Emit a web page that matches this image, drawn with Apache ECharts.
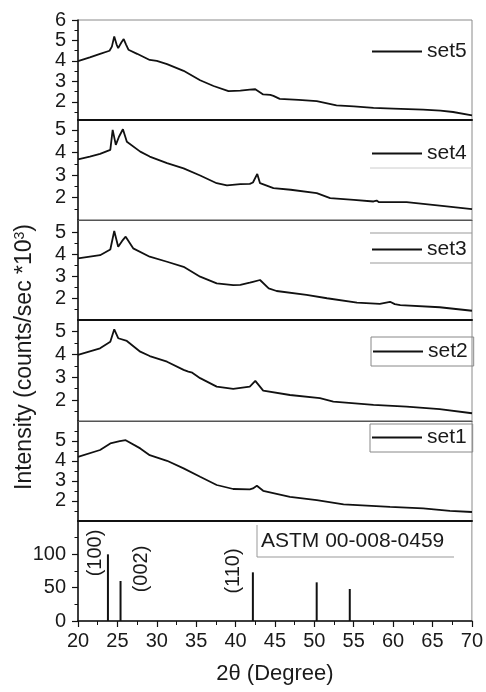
<!DOCTYPE html>
<html>
<head>
<meta charset="utf-8">
<script src="https://cdn.jsdelivr.net/npm/echarts@6/dist/echarts.min.js"></script>
<style>
html, body { margin: 0; padding: 0; background: #fff; }
#main { width: 486px; height: 692px; }
</style>
</head>
<body>
<div id="main"></div>
<script>
// XRD patterns, [2theta, intensity (x10^3 counts/sec)]
var set5 = [[20, 3.99], [21.5, 4.18], [22.8, 4.35], [24.0, 4.5], [24.3, 4.7], [24.6, 5.2], [24.9, 4.8], [25.1, 4.63], [25.5, 4.9], [25.8, 5.07], [26.1, 4.8], [26.4, 4.55], [27.5, 4.35], [29.1, 4.05], [30, 4.0], [31.3, 3.85], [33.4, 3.52], [35.5, 3.06], [37.2, 2.78], [39.1, 2.53], [40.6, 2.55], [41.8, 2.6], [42.5, 2.62], [43.5, 2.37], [44.4, 2.35], [44.6, 2.42], [44.8, 2.3], [45.6, 2.15], [48, 2.1], [50.3, 2.04], [52.8, 1.83], [55, 1.78], [57.5, 1.71], [60, 1.68], [63.8, 1.63], [66, 1.58], [67.6, 1.51], [70, 1.35]];
var set4 = [[20, 3.7], [21.5, 3.82], [22.8, 3.94], [24.1, 4.12], [24.4, 5.0], [24.8, 4.34], [25.2, 4.7], [25.7, 5.03], [26.2, 4.48], [27.9, 4.04], [29.1, 3.82], [31.3, 3.53], [33.4, 3.3], [35.5, 2.98], [37.6, 2.64], [38.9, 2.54], [40.6, 2.6], [41.8, 2.61], [42.2, 2.67], [42.75, 3.05], [43.1, 2.64], [44.8, 2.42], [47, 2.35], [50.3, 2.2], [52, 1.98], [55, 1.9], [57.5, 1.83], [57.9, 1.87], [58.2, 1.8], [61.7, 1.8], [65.9, 1.65], [70, 1.49]];
var set3 = [[20, 3.8], [22.8, 3.95], [24.1, 4.21], [24.6, 5.05], [25.1, 4.33], [25.6, 4.6], [26.05, 4.79], [27.0, 4.26], [29.1, 3.88], [31.3, 3.65], [33.4, 3.42], [35.5, 2.97], [37.6, 2.67], [39.7, 2.59], [40.6, 2.6], [41.8, 2.7], [42.2, 2.74], [43.1, 2.82], [44.2, 2.44], [45.2, 2.32], [49.0, 2.14], [51.6, 1.99], [55.4, 1.79], [58.3, 1.73], [59.6, 1.83], [60.2, 1.72], [60.9, 1.68], [65.9, 1.58], [70, 1.42]];
var set2 = [[20, 3.98], [22.8, 4.27], [24.1, 4.56], [24.6, 5.1], [25.1, 4.71], [26.2, 4.59], [27.9, 4.12], [29.1, 3.93], [31.3, 3.68], [33.4, 3.32], [34.0, 3.25], [34.2, 3.32], [34.5, 3.2], [35.5, 2.96], [37.6, 2.59], [39.7, 2.49], [41.8, 2.59], [42.5, 2.84], [43.5, 2.41], [46.9, 2.22], [50.7, 2.08], [52.4, 1.93], [57.5, 1.79], [61.7, 1.71], [65.9, 1.6], [70, 1.42]];
var set1 = [[20, 4.2], [22.8, 4.54], [24.1, 4.87], [25.3, 4.98], [26.05, 5.03], [27.9, 4.62], [29.1, 4.28], [31.3, 4.0], [33.4, 3.62], [35.5, 3.2], [37.6, 2.79], [39.7, 2.59], [41.8, 2.57], [42.2, 2.62], [42.7, 2.75], [43.5, 2.5], [46.9, 2.2], [50.3, 2.03], [53.7, 1.82], [59.6, 1.7], [63.8, 1.62], [67.2, 1.5], [70, 1.44]];

// ASTM 00-008-0459 reference lines
var astmTheta = [23.8, 25.4, 42.2, 50.3, 54.5];
var astmIntensity = [100, 60, 73, 58, 48];

var setNames = ['set5', 'set4', 'set3', 'set2', 'set1'];
var yTicks = [[2, 3, 4, 5, 6], [2, 3, 4, 5], [2, 3, 4, 5], [2, 3, 4, 5], [2, 3, 4, 5], [0, 50, 100]];
var yMinor = [[1.5, 2.5, 3.5, 4.5, 5.5], [1.5, 2.5, 3.5, 4.5], [1.5, 2.5, 3.5, 4.5], [1.5, 2.5, 3.5, 4.5], [1.5, 2.5, 3.5, 4.5, 5.5], [25, 75, 125]];
var yMin = [1.12, 1.01, 1.0, 1.08, 0.99, 0];
var yMax = [6, 5.44, 5.55, 5.51, 5.99, 150];

// panel layout (px)
var panelTop = [20, 120, 220, 320, 421, 521];
var panelHeight = [100, 100, 100, 101, 100, 100];
var sepColor = ['#111', '#555', '#111', '#555', '#111', '#111'];
var sepWidth = [2, 1.2, 2, 1.2, 2, 1.5];

var font = 'Liberation Sans, Arial, sans-serif';
var chartDom = document.getElementById('main');
var myChart = echarts.init(chartDom);

var grids = [], xAxes = [], yAxes = [], series = [];
for (var i = 0; i < 6; i++) {
	var isBottom = i === 5;
	grids.push({
		left: 78, right: 14, top: panelTop[i], height: panelHeight[i],
		show: true, borderColor: '#8a8a8a', borderWidth: 1
	});
	xAxes.push({
		gridIndex: i, type: 'value', min: 20, max: 70, interval: 5,
		axisLine: { show: true, onZero: false, lineStyle: { color: sepColor[i], width: sepWidth[i] } },
		axisTick: { show: isBottom, length: 6, lineStyle: { color: '#111', width: 1.2 } },
		minorTick: { show: isBottom, splitNumber: 2, length: 4, lineStyle: { color: '#111', width: 1 } },
		axisLabel: { show: isBottom, fontSize: 20, color: '#1a1a1a', margin: 10, fontFamily: font },
		splitLine: { show: false },
		name: isBottom ? '2θ (Degree)' : '',
		nameLocation: 'middle', nameGap: 42,
		nameTextStyle: { fontSize: 22, color: '#1a1a1a', fontFamily: font }
	});
	yAxes.push({
		gridIndex: i, type: 'value', position: 'left', min: yMin[i], max: yMax[i],
		axisLine: { show: true, onZero: false, lineStyle: { color: '#111', width: 1.5 } },
		axisTick: { show: true, customValues: yTicks[i], length: 6, lineStyle: { color: '#111', width: 1.2 } },
		axisLabel: { customValues: yTicks[i], fontSize: 20, margin: 12, color: '#1a1a1a', fontFamily: font },
		splitLine: { show: false }
	});
	// minor ticks
	yAxes.push({
		gridIndex: i, type: 'value', position: 'left', min: yMin[i], max: yMax[i],
		axisLine: { show: false, onZero: false },
		axisTick: { show: true, customValues: yMinor[i], length: 3.5, lineStyle: { color: '#111', width: 1 } },
		axisLabel: { show: false },
		splitLine: { show: false }
	});
}

var sets = [set5, set4, set3, set2, set1];
for (var j = 0; j < 5; j++) {
	series.push({
		name: setNames[j], type: 'line', xAxisIndex: j, yAxisIndex: 2 * j,
		data: sets[j], symbol: 'none', showSymbol: false,
		color: '#111',
		lineStyle: { color: '#111', width: 1.8 }
	});
}
series.push({
	name: 'ASTM', type: 'bar', xAxisIndex: 5, yAxisIndex: 10,
	data: astmTheta.map(function (t, k) { return [t, astmIntensity[k]]; }),
	barWidth: 2, itemStyle: { color: '#111' }
});

function legendFor(name, left, top, boxed, pad) {
	return {
		data: [name], left: left, top: top, orient: 'horizontal',
		icon: 'rect', itemWidth: 50, itemHeight: 2, itemGap: 0,
		padding: pad,
		borderColor: boxed ? '#888' : 'transparent', borderWidth: boxed ? 1 : 0,
		selectedMode: false,
		textStyle: { fontSize: 21, color: '#1a1a1a', fontFamily: font }
	};
}

var grey = { stroke: '#999', lineWidth: 1 };
var option = {
	animation: false,
	grid: grids,
	xAxis: xAxes,
	yAxis: yAxes,
	series: series,
	legend: [
		legendFor('set5', 372, 41, false, 0),
		legendFor('set4', 372, 143, false, 0),
		legendFor('set3', 372, 239, false, 0),
		legendFor('set2', 371, 337, true, [4, 6, 4, 2]),
		legendFor('set1', 370, 424, true, [3, 6, 4, 2])
	],
	graphic: [
		{
			type: 'text', x: 25, y: 357, rotation: Math.PI / 2,
			style: {
				text: 'Intensity (counts/sec *10{sup|3})',
				fontSize: 23, fill: '#1a1a1a', fontFamily: font,
				align: 'center', verticalAlign: 'middle',
				rich: { sup: { fontSize: 14, padding: [0, 0, 10, 0], fill: '#1a1a1a', fontFamily: font } }
			}
		},
		{ type: 'line', shape: { x1: 370, y1: 168, x2: 472, y2: 168 }, style: { stroke: '#ccc', lineWidth: 1 } },
		{ type: 'line', shape: { x1: 370, y1: 233, x2: 472, y2: 233 }, style: grey },
		{ type: 'line', shape: { x1: 370, y1: 263, x2: 472, y2: 263 }, style: grey },
		// ASTM card label
		{ type: 'line', shape: { x1: 257, y1: 525, x2: 257, y2: 557 }, style: grey },
		{ type: 'line', shape: { x1: 257, y1: 557, x2: 454, y2: 557 }, style: grey },
		{
			type: 'text', x: 261, y: 541,
			style: { text: 'ASTM 00-008-0459', fontSize: 21, fill: '#1a1a1a', fontFamily: font, verticalAlign: 'middle' }
		},
		// hkl labels
		{ type: 'text', x: 95, y: 553, rotation: Math.PI / 2, style: { text: '(100)', fontSize: 20, fill: '#1a1a1a', fontFamily: font, align: 'center', verticalAlign: 'middle' } },
		{ type: 'text', x: 141, y: 569, rotation: Math.PI / 2, style: { text: '(002)', fontSize: 20, fill: '#1a1a1a', fontFamily: font, align: 'center', verticalAlign: 'middle' } },
		{ type: 'text', x: 233, y: 571, rotation: Math.PI / 2, style: { text: '(110)', fontSize: 20, fill: '#1a1a1a', fontFamily: font, align: 'center', verticalAlign: 'middle' } }
	]
};
myChart.setOption(option);
window.addEventListener('resize', function () {
	myChart.resize();
});
</script>
</body>
</html>
